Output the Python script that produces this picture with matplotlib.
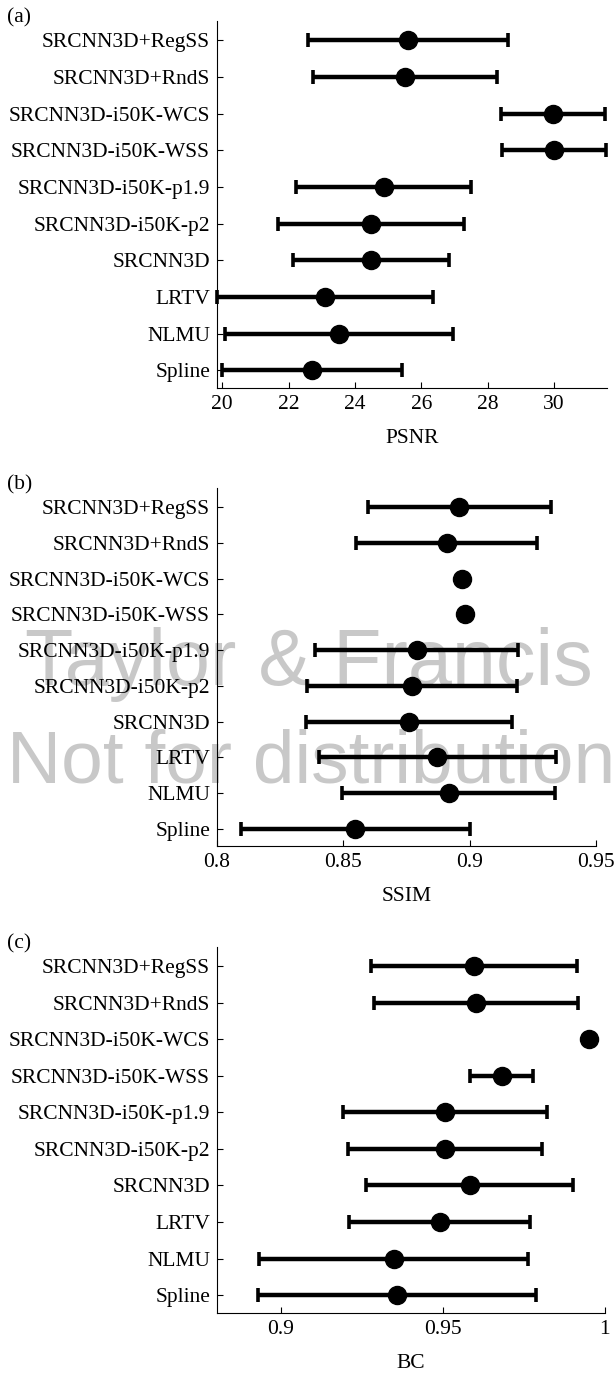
import matplotlib
matplotlib.use("Agg")

import matplotlib.pyplot as plt
import numpy as np

# methods, listed bottom to top
methods = ["Spline", "NLMU", "LRTV", "SRCNN3D", "SRCNN3D-i50K-p2",
           "SRCNN3D-i50K-p1.9", "SRCNN3D-i50K-WSS", "SRCNN3D-i50K-WCS",
           "SRCNN3D+RndS", "SRCNN3D+RegSS"]

psnr_mean = [22.71, 23.52, 23.10, 24.49, 24.49, 24.87, 30.00, 29.98, 25.51, 25.61]
psnr_err = [2.71, 3.44, 3.25, 2.36, 2.80, 2.64, 1.57, 1.57, 2.78, 3.02]

ssim_mean = [0.8548, 0.8917, 0.8873, 0.8761, 0.8772, 0.8791, 0.8982, 0.8970, 0.8909, 0.8960]
ssim_err = [0.0454, 0.0423, 0.0470, 0.0409, 0.0415, 0.0402, 0.0, 0.0, 0.0360, 0.0364]

bc_mean = [0.9360, 0.9349, 0.9491, 0.9583, 0.9508, 0.9506, 0.9682, 0.9951, 0.9603, 0.9597]
bc_err = [0.0429, 0.0415, 0.0280, 0.0320, 0.0300, 0.0315, 0.0098, 0.0, 0.0316, 0.0317]

serif = ["Liberation Serif", "DejaVu Serif"]
fs = 15.5

fig = plt.figure(figsize=(6.14, 13.73), dpi=100)

panels = [
    ("(a)", psnr_mean, psnr_err, "PSNR", (19.84, 31.6), [20, 22, 24, 26, 28, 30],
     ["20", "22", "24", "26", "28", "30"], [0.3534, 0.7174, 0.635, 0.2673]),
    ("(b)", ssim_mean, ssim_err, "SSIM", (0.8, 0.95), [0.8, 0.85, 0.9, 0.95],
     ["0.8", "0.85", "0.9", "0.95"], [0.3534, 0.3838, 0.617, 0.2607]),
    ("(c)", bc_mean, bc_err, "BC", (0.8803, 1.0), [0.9, 0.95, 1.0],
     ["0.9", "0.95", "1"], [0.3534, 0.0439, 0.6313, 0.2666]),
]

y = np.arange(len(methods))
for tag, mean, err, xlabel, xlim, xt, xtl, pos in panels:
    ax = fig.add_axes(pos)
    ax.patch.set_alpha(0)
    ax.errorbar(mean, y, xerr=err, fmt="o", color="k", ms=13,
                elinewidth=3.2, capsize=5, capthick=2.6, clip_on=False)
    ax.set_xlim(xlim)
    ax.set_ylim(-0.48, 9.53)
    ax.set_yticks(y)
    ax.set_yticklabels(methods, fontsize=fs, family=serif)
    ax.set_xticks(xt)
    ax.set_xticklabels(xtl, fontsize=fs, family=serif)
    ax.set_xlabel(xlabel, fontsize=fs, family=serif, labelpad=11)
    ax.spines["top"].set_visible(False)
    ax.spines["right"].set_visible(False)
    ax.tick_params(direction="in", length=4, width=0.8)
    ax.tick_params(axis="y", pad=5)
    ax.tick_params(axis="x", pad=5)
    top = pos[1] + pos[3]
    fig.text(0.012, top + 0.002, tag, fontsize=fs, family=serif, va="center", ha="left")

# watermark
wm_font = ["Liberation Sans", "DejaVu Sans"]
fig.text(0.503, 1 - 685 / 1373, "Taylor & Francis", fontsize=57, color="#c8c8c8",
         family=wm_font, ha="center", va="baseline", zorder=-5)
fig.text(0.012, 1 - 783 / 1373, "Not for distribution", fontsize=54, color="#c8c8c8",
         family=wm_font, ha="left", va="baseline", zorder=-5)

plt.savefig("out.png", dpi=100)
plt.close()
